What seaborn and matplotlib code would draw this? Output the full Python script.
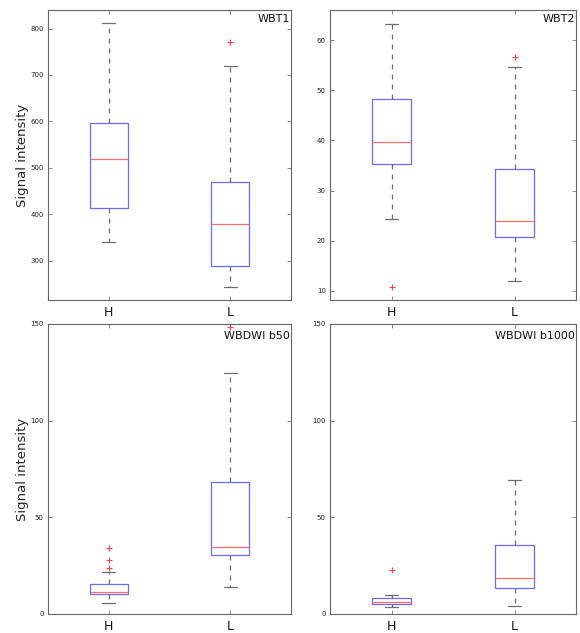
import matplotlib
matplotlib.use("Agg")
import matplotlib.pyplot as plt
import seaborn as sns

sns.set_theme(style="white")
plt.rcParams['font.family'] = ['DejaVu Sans']

groups = ["H", "L"]
titles = ["WBT1", "WBT2", "WBDWI b50", "WBDWI b1000"]

# per-panel stats: [H, L] -> (whislo, q1, med, q3, whishi)
wbt1_low = [339, 244]
wbt1_q1 = [413, 288]
wbt1_med = [518, 378]
wbt1_q3 = [596, 470]
wbt1_high = [811, 720]
wbt1_out = [[], [771]]

wbt2_low = [24.3, 12.0]
wbt2_q1 = [35.4, 20.7]
wbt2_med = [39.6, 24.0]
wbt2_q3 = [48.3, 34.4]
wbt2_high = [63.3, 54.7]
wbt2_out = [[10.7], [56.6]]

b50_low = [5.5, 14.0]
b50_q1 = [10.4, 30.4]
b50_med = [11.6, 34.6]
b50_q3 = [15.4, 68.3]
b50_high = [21.8, 124.9]
b50_out = [[23.7, 28.0, 34.2], [148.6]]

b1000_low = [3.6, 4.3]
b1000_q1 = [5.0, 13.5]
b1000_med = [6.0, 18.8]
b1000_q3 = [8.1, 35.9]
b1000_high = [9.7, 69.3]
b1000_out = [[22.6], []]

panels = [
    (wbt1_low, wbt1_q1, wbt1_med, wbt1_q3, wbt1_high, wbt1_out, (215, 840), [300, 400, 500, 600, 700, 800]),
    (wbt2_low, wbt2_q1, wbt2_med, wbt2_q3, wbt2_high, wbt2_out, (8.2, 66), [10, 20, 30, 40, 50, 60]),
    (b50_low, b50_q1, b50_med, b50_q3, b50_high, b50_out, (0, 150), [0, 50, 100, 150]),
    (b1000_low, b1000_q1, b1000_med, b1000_q3, b1000_high, b1000_out, (0, 150), [0, 50, 100, 150]),
]

fig = plt.figure(figsize=(5.8, 6.33), dpi=100)
rects = [
    [48 / 580, 1 - 300 / 633, 243 / 580, 290 / 633],
    [330 / 580, 1 - 300 / 633, 246 / 580, 290 / 633],
    [48 / 580, 1 - 614 / 633, 243 / 580, 290 / 633],
    [330 / 580, 1 - 614 / 633, 246 / 580, 290 / 633],
]

for i, (lo, q1, med, q3, hi, out, ylim, yt) in enumerate(panels):
    ax = fig.add_axes(rects[i])
    stats = []
    for j, g in enumerate(groups):
        stats.append(dict(label=g, whislo=lo[j], q1=q1[j], med=med[j],
                          q3=q3[j], whishi=hi[j], fliers=out[j]))
    ax.bxp(stats, positions=[1, 2], widths=0.31, capwidths=0.11,
           boxprops=dict(color="#6b6bff", linewidth=0.9),
           medianprops=dict(color="#ff6b6b", linewidth=0.9),
           whiskerprops=dict(color="#6e6e6e", linewidth=0.9, linestyle=(0, (4, 4))),
           capprops=dict(color="#6e6e6e", linewidth=0.9),
           flierprops=dict(marker="+", markeredgecolor="#ff4444", markersize=5,
                           markeredgewidth=0.8, linestyle="none"))
    ax.set_xlim(0.5, 2.5)
    ax.set_ylim(*ylim)
    ax.set_yticks(yt)
    ax.set_xticks([1, 2])
    ax.set_xticklabels(groups)
    ax.tick_params(axis="y", labelsize=5, direction="in", length=3, width=0.6,
                   color="#777777", right=True, left=True, pad=3, labelcolor="#222222")
    ax.tick_params(axis="x", labelsize=9, direction="in", length=3, width=0.6,
                   color="#777777", top=True, bottom=True, pad=4, labelcolor="#111111")
    for s in ax.spines.values():
        s.set_color("#666666")
        s.set_linewidth(0.8)
    ax.text(0.995, 0.985 if i < 2 else 0.975, titles[i], transform=ax.transAxes,
            ha="right", va="top", fontsize=8, color="#111111")
    if i % 2 == 0:
        ax.set_ylabel("Signal intensity", fontsize=9.5, labelpad=1)

fig.savefig("out.png", dpi=100)
